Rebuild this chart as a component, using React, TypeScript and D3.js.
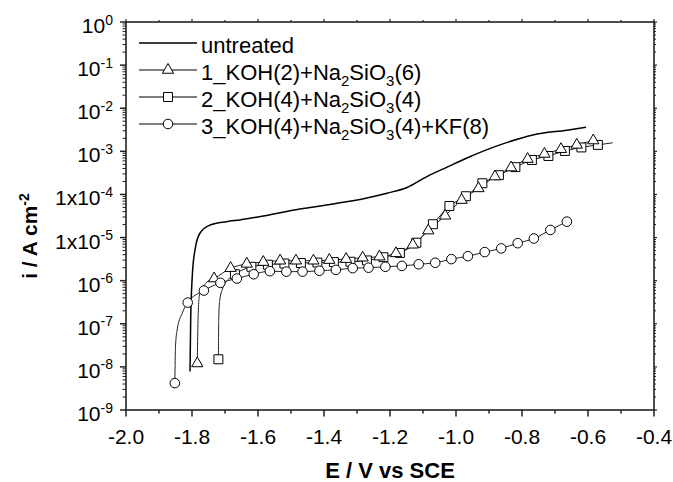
import React from "react";
import * as d3 from "d3";

const W = 673;
const H = 482;

// Axis ticks
const X_MAJOR = [-2.0, -1.8, -1.6, -1.4, -1.2, -1.0, -0.8, -0.6, -0.4];
const X_TICK_LABELS = ["-2.0", "-1.8", "-1.6", "-1.4", "-1.2", "-1.0", "-0.8", "-0.6", "-0.4"];
const X_MINOR = [-1.9, -1.7, -1.5, -1.3, -1.1, -0.9, -0.7, -0.5];
const Y_MAJOR = [1, 1e-1, 1e-2, 1e-3, 1e-4, 1e-5, 1e-6, 1e-7, 1e-8, 1e-9];
const Y_TICK_BASES = ["10", "10", "10", "10", "1x10", "1x10", "10", "10", "10", "10"];
const Y_TICK_EXPS = ["0", "-1", "-2", "-3", "-4", "-5", "-6", "-7", "-8", "-9"];
const Y_MINOR_MULTS = [2, 3, 4, 5, 6, 7, 8, 9];

// untreated (line only)
const UNTREATED_E = [-1.806, -1.804, -1.798, -1.791, -1.776, -1.745, -1.695, -1.655, -1.6, -1.473, -1.373, -1.27, -1.209, -1.148, -1.088, -1.027, -0.967, -0.867, -0.767, -0.664, -0.606];
const UNTREATED_I = [7.8e-9, 1.23e-7, 1.78e-6, 5.1e-6, 1.26e-5, 1.95e-5, 2.34e-5, 2.57e-5, 3.0e-5, 4.6e-5, 6.0e-5, 8.3e-5, 1.07e-4, 1.45e-4, 2.6e-4, 4.3e-4, 7.0e-4, 1.41e-3, 2.4e-3, 3.1e-3, 3.6e-3];

// 1_KOH(2)+Na2SiO3(6) – triangles
const TRI_E = [-1.784, -1.733, -1.683, -1.634, -1.584, -1.533, -1.485, -1.432, -1.384, -1.333, -1.283, -1.232, -1.182, -1.131, -1.084, -1.033, -0.983, -0.932, -0.882, -0.833, -0.783, -0.732, -0.682, -0.634, -0.584];
const TRI_I = [1.2e-8, 1.12e-6, 1.95e-6, 2.45e-6, 2.7e-6, 2.9e-6, 2.9e-6, 2.9e-6, 3.0e-6, 3.16e-6, 3.4e-6, 3.6e-6, 4.3e-6, 6.8e-6, 1.45e-5, 3.2e-5, 7.4e-5, 1.38e-4, 2.6e-4, 4.2e-4, 6.6e-4, 8.7e-4, 1.12e-3, 1.41e-3, 1.78e-3];
const TRI_LINE_E = [-1.782, -1.778, -1.77, -1.755];
const TRI_LINE_I = [1.0e-7, 4.3e-7, 6.3e-7, 9.3e-7];

// 2_KOH(4)+Na2SiO3(4) – squares
const SQ_E = [-1.72, -1.67, -1.62, -1.57, -1.52, -1.47, -1.42, -1.37, -1.32, -1.27, -1.22, -1.17, -1.12, -1.07, -1.02, -0.97, -0.92, -0.87, -0.82, -0.77, -0.72, -0.67, -0.62, -0.57];
const SQ_I = [1.5e-8, 1.41e-6, 2.1e-6, 2.35e-6, 2.5e-6, 2.57e-6, 2.63e-6, 2.7e-6, 2.75e-6, 2.95e-6, 3.5e-6, 4.4e-6, 7.6e-6, 2.04e-5, 5.4e-5, 9.1e-5, 1.82e-4, 2.8e-4, 4.3e-4, 6.3e-4, 7.8e-4, 1.02e-3, 1.23e-3, 1.41e-3];
const SQ_LINE_E = [-1.719, -1.716, -1.705, -1.69, -0.525];
const SQ_LINE_I = [1.2e-7, 3.5e-7, 7.2e-7, 1.07e-6, 1.58e-3];

// 3_KOH(4)+Na2SiO3(4)+KF(8) – circles
const CIR_E = [-1.852, -1.813, -1.764, -1.714, -1.664, -1.613, -1.564, -1.514, -1.465, -1.414, -1.364, -1.313, -1.265, -1.214, -1.164, -1.113, -1.063, -1.014, -0.964, -0.913, -0.863, -0.813, -0.764, -0.714, -0.664];
const CIR_I = [4.2e-9, 3.1e-7, 5.9e-7, 8.9e-7, 1.12e-6, 1.41e-6, 1.66e-6, 1.62e-6, 1.62e-6, 1.7e-6, 1.78e-6, 1.95e-6, 2.0e-6, 2.1e-6, 2.2e-6, 2.4e-6, 2.6e-6, 3.16e-6, 3.7e-6, 4.6e-6, 5.6e-6, 7.4e-6, 9.5e-6, 1.5e-5, 2.34e-5];
const CIR_LINE_E = [-1.85, -1.845, -1.83];
const CIR_LINE_I = [3.0e-8, 7.2e-8, 1.74e-7];

type Seg = { t: string; sub?: boolean };
const LEGEND_LABELS: Seg[][] = [
  [{ t: "untreated" }],
  [{ t: "1_KOH(2)+Na" }, { t: "2", sub: true }, { t: "SiO" }, { t: "3", sub: true }, { t: "(6)" }],
  [{ t: "2_KOH(4)+Na" }, { t: "2", sub: true }, { t: "SiO" }, { t: "3", sub: true }, { t: "(4)" }],
  [{ t: "3_KOH(4)+Na" }, { t: "2", sub: true }, { t: "SiO" }, { t: "3", sub: true }, { t: "(4)+KF(8)" }],
];
const LEGEND_MARKERS = ["none", "triangle", "square", "circle"];

const X_TITLE = "E / V vs SCE";

const L = 126, R = 654, T = 22, B = 410;
const FONT = "Liberation Sans, Arial, Helvetica, sans-serif";
const AXIS = "#222";

const x = d3.scaleLinear().domain([-2.0, -0.4]).range([L, R]);
const y = d3.scaleLog().domain([1e-9, 1]).range([B, T]);

function zipSorted(e1: number[], i1: number[], e2: number[] = [], i2: number[] = []) {
  const pts: [number, number][] = [];
  e1.forEach((e, k) => pts.push([e, i1[k]]));
  e2.forEach((e, k) => pts.push([e, i2[k]]));
  pts.sort((a, b) => a[0] - b[0]);
  return pts;
}

const lineGen = d3
  .line<[number, number]>()
  .x((d) => x(d[0]))
  .y((d) => y(d[1]))
  .curve(d3.curveMonotoneX);

const symTri = d3.symbol().type(d3.symbolTriangle).size(55)()!;
const symSq = d3.symbol().type(d3.symbolSquare).size(80)()!;
const symCir = d3.symbol().type(d3.symbolCircle).size(72)()!;

function Marker({ kind, cx, cy }: { kind: string; cx: number; cy: number }) {
  const d = kind === "triangle" ? symTri : kind === "square" ? symSq : kind === "circle" ? symCir : null;
  if (!d) return null;
  return <path d={d} transform={`translate(${cx},${cy})`} fill="#fff" stroke="#000" strokeWidth={1} />;
}

export default function App() {
  const untreated = zipSorted(UNTREATED_E, UNTREATED_I);
  const tri = zipSorted(TRI_E, TRI_I, TRI_LINE_E, TRI_LINE_I);
  const sq = zipSorted(SQ_E, SQ_I, SQ_LINE_E, SQ_LINE_I);
  const cir = zipSorted(CIR_E, CIR_I, CIR_LINE_E, CIR_LINE_I);

  const yMinor: number[] = [];
  for (let k = -9; k < 0; k++) Y_MINOR_MULTS.forEach((m) => yMinor.push(m * Math.pow(10, k)));

  const legendY0 = 43;
  const legendDy = 27;

  return (
    <svg
      width={W}
      height={H}
      style={{ position: "absolute", left: 0, top: 0, background: "#fff" }}
      fontFamily={FONT}
    >
      <rect x={0} y={0} width={W} height={H} fill="#fff" />

      {/* series lines */}
      <path d={lineGen(untreated)!} fill="none" stroke="#000" strokeWidth={1.5} />
      <path d={lineGen(sq)!} fill="none" stroke="#222" strokeWidth={1} />
      <path d={lineGen(tri)!} fill="none" stroke="#222" strokeWidth={1} />
      <path d={lineGen(cir)!} fill="none" stroke="#222" strokeWidth={1} />

      {/* markers */}
      {SQ_E.map((e, k) => (
        <Marker key={"s" + k} kind="square" cx={x(e)} cy={y(SQ_I[k])} />
      ))}
      {TRI_E.map((e, k) => (
        <Marker key={"t" + k} kind="triangle" cx={x(e)} cy={y(TRI_I[k])} />
      ))}
      {CIR_E.map((e, k) => (
        <Marker key={"c" + k} kind="circle" cx={x(e)} cy={y(CIR_I[k])} />
      ))}

      {/* frame */}
      <rect x={L} y={T} width={R - L} height={B - T} fill="none" stroke={AXIS} strokeWidth={1.6} />

      {/* x ticks */}
      {X_MAJOR.map((v, k) => (
        <g key={"xm" + k}>
          <line x1={x(v)} x2={x(v)} y1={B} y2={B + 6.5} stroke={AXIS} strokeWidth={1.5} />
          <line x1={x(v)} x2={x(v)} y1={T} y2={T - 3} stroke={AXIS} strokeWidth={1.2} />
          <text x={x(v)} y={444} textAnchor="middle" fontSize={21} fill="#000">
            {X_TICK_LABELS[k]}
          </text>
        </g>
      ))}
      {X_MINOR.map((v, k) => (
        <g key={"xn" + k}>
          <line x1={x(v)} x2={x(v)} y1={B} y2={B + 3.5} stroke={AXIS} strokeWidth={1.5} />
          <line x1={x(v)} x2={x(v)} y1={T} y2={T - 2} stroke={AXIS} strokeWidth={1.2} />
        </g>
      ))}

      {/* y ticks */}
      {Y_MAJOR.map((v, k) => (
        <g key={"ym" + k}>
          <line x1={L - 6} x2={L} y1={y(v)} y2={y(v)} stroke={AXIS} strokeWidth={1.5} />
          <line x1={R} x2={R + 3} y1={y(v)} y2={y(v)} stroke={AXIS} strokeWidth={1.2} />
          <text x={113} y={y(v) + 11} textAnchor="end" fontSize={21} fill="#000">
            {Y_TICK_BASES[k]}
            <tspan dy={-8.5} fontSize={14}>
              {Y_TICK_EXPS[k]}
            </tspan>
          </text>
        </g>
      ))}
      {yMinor.map((v, k) => (
        <g key={"yn" + k}>
          <line x1={L - 3.5} x2={L} y1={y(v)} y2={y(v)} stroke={AXIS} strokeWidth={1} />
          <line x1={R} x2={R + 2} y1={y(v)} y2={y(v)} stroke={AXIS} strokeWidth={1} />
        </g>
      ))}

      {/* axis titles */}
      <text x={(L + R) / 2} y={478} textAnchor="middle" fontSize={22} fontWeight="bold" fill="#000">
        {X_TITLE}
      </text>
      <text
        transform={`translate(37,236) rotate(-90)`}
        textAnchor="middle"
        fontSize={21}
        fontWeight="bold"
        fill="#000"
      >
        i / A cm
        <tspan dy={-8.5} fontSize={14}>
          -2
        </tspan>
      </text>

      {/* legend */}
      {LEGEND_LABELS.map((segs, k) => {
        const ly = legendY0 + k * legendDy;
        let shift = 0;
        return (
          <g key={"lg" + k}>
            <line x1={139} x2={197} y1={ly} y2={ly} stroke="#000" strokeWidth={k === 0 ? 1.5 : 1} />
            <Marker kind={LEGEND_MARKERS[k]} cx={168} cy={ly} />
            <text x={201} y={ly + 9.5} fontSize={22} fill="#000">
              {segs.map((s, j) => {
                let dy = 0;
                if (s.sub && shift === 0) {
                  dy = 6.5;
                  shift = 6.5;
                } else if (!s.sub && shift !== 0) {
                  dy = -shift;
                  shift = 0;
                }
                return (
                  <tspan key={j} dy={dy} fontSize={s.sub ? 15 : 22}>
                    {s.t}
                  </tspan>
                );
              })}
            </text>
          </g>
        );
      })}
    </svg>
  );
}
